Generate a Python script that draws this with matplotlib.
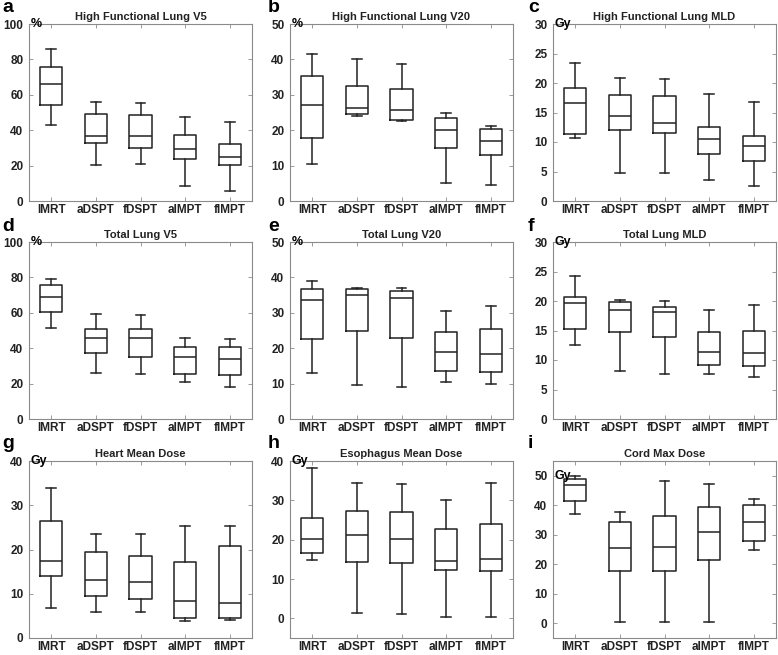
import matplotlib
matplotlib.use('Agg')
import matplotlib.pyplot as plt
import numpy as np

plt.rcParams['font.family'] = ['Liberation Sans', 'DejaVu Sans']

plans = ['IMRT', 'aDSPT', 'fDSPT', 'aIMPT', 'fIMPT']

# per panel: [whislo, q1, med, q3, whishi] for each plan
hfl_v5 = [[43, 54, 66, 75.5, 86], [20.5, 33, 37, 49, 56], [21, 30, 36.5, 48.5, 55.5],
          [8.5, 23.5, 29.5, 37.5, 47.5], [5.5, 20.5, 25, 32, 44.5]]
hfl_v20 = [[10.5, 17.8, 27, 35.2, 41.6], [24, 24.5, 26.3, 32.5, 40], [22.6, 22.9, 25.6, 31.5, 38.8],
           [5.2, 15, 20, 23.4, 24.9], [4.5, 13, 17, 20.2, 21.1]]
hfl_mld = [[10.7, 11.4, 16.6, 19.1, 23.4], [4.8, 12, 14.4, 18, 20.8], [4.8, 11.6, 13.2, 17.8, 20.6],
           [3.6, 7.9, 10.5, 12.5, 18.2], [2.5, 6.8, 9.3, 11.1, 16.7]]
tl_v5 = [[51.5, 60.5, 69, 75.5, 79], [26, 37.5, 46, 51, 59.5], [25.5, 35, 46, 51, 58.5],
         [21, 25.5, 35, 40.5, 46], [18, 25, 34, 40.5, 45]]
tl_v20 = [[13, 22.5, 33.7, 36.7, 39], [9.7, 24.8, 34.9, 36.6, 37.1], [9, 23, 34.2, 36.2, 36.9],
          [10.5, 13.5, 19, 24.6, 30.4], [10, 13.3, 18.4, 25.3, 31.9]]
tl_mld = [[12.5, 15.2, 19.7, 20.6, 24.2], [8.1, 14.8, 18.4, 19.9, 20.1], [7.7, 13.9, 18.2, 19.0, 20.0],
          [7.7, 9.1, 11.4, 14.7, 18.5], [7.1, 9.0, 11.2, 15.0, 19.3]]
heart_mean = [[6.7, 14.1, 17.5, 26.4, 33.9], [5.8, 9.6, 13.0, 19.4, 23.6], [5.8, 8.8, 12.7, 18.5, 23.5],
              [3.9, 4.6, 8.3, 17.1, 25.3], [4.1, 4.5, 8.0, 20.7, 25.2]]
esoph_mean = [[14.8, 16.5, 20.1, 25.6, 38.3], [1.4, 14.2, 21.2, 27.3, 34.3], [1.1, 14.1, 20.2, 27.1, 34.2],
              [0.3, 12.3, 14.5, 22.7, 30.2], [0.3, 12.0, 15.0, 24.0, 34.3]]
cord_max = [[37.2, 41.3, 46.8, 48.9, 49.8], [0.5, 17.8, 25.5, 34.4, 37.8], [0.5, 17.8, 25.7, 36.5, 48.2],
            [0.5, 21.5, 30.9, 39.4, 47.2], [25.0, 28.0, 34.3, 40.1, 42.0]]

panels = [
    ('a', 'High Functional Lung V5', hfl_v5, '%', (0, 100), np.arange(0, 101, 20)),
    ('b', 'High Functional Lung V20', hfl_v20, '%', (0, 50), np.arange(0, 51, 10)),
    ('c', 'High Functional Lung MLD', hfl_mld, 'Gy', (0, 30), np.arange(0, 31, 5)),
    ('d', 'Total Lung V5', tl_v5, '%', (0, 100), np.arange(0, 101, 20)),
    ('e', 'Total Lung V20', tl_v20, '%', (0, 50), np.arange(0, 51, 10)),
    ('f', 'Total Lung MLD', tl_mld, 'Gy', (0, 30), np.arange(0, 31, 5)),
    ('g', 'Heart Mean Dose', heart_mean, 'Gy', (0, 40), np.arange(0, 41, 10)),
    ('h', 'Esophagus Mean Dose', esoph_mean, 'Gy', (-5, 40), np.arange(0, 41, 10)),
    ('i', 'Cord Max Dose', cord_max, 'Gy', (-5, 55), np.arange(0, 51, 10)),
]

W, H = 778, 655
fig = plt.figure(figsize=(W / 100, H / 100), dpi=100)

col_left = [29, 290, 553]
row_top = [24, 242, 461]
ax_w, ax_h = 223, 177
letter_x = [2, 268, 528]
letter_y = [7, 227, 444]

for k, (letter, title, stats, unit, ylim, yticks) in enumerate(panels):
    r, c = divmod(k, 3)
    ax = fig.add_axes([col_left[c] / W, 1 - (row_top[r] + ax_h) / H, ax_w / W, ax_h / H])
    bstats = [dict(whislo=s[0], q1=s[1], med=s[2], q3=s[3], whishi=s[4], fliers=[]) for s in stats]
    lw = 1.1
    ax.bxp(bstats, positions=range(1, 6), widths=0.5, capwidths=0.22, showfliers=False,
           boxprops=dict(color='#222222', linewidth=lw),
           whiskerprops=dict(color='#222222', linewidth=lw),
           capprops=dict(color='#222222', linewidth=lw),
           medianprops=dict(color='#222222', linewidth=lw))
    ax.set_xlim(0.5, 5.5)
    ax.set_ylim(*ylim)
    ax.set_yticks(yticks)
    ax.set_xticks(range(1, 6))
    ax.set_xticklabels(plans)
    for sp in ax.spines.values():
        sp.set_color('#8a8a8a')
        sp.set_linewidth(0.8)
    ax.tick_params(direction='in', length=3, width=0.6, color='#8a8a8a',
                   top=True, right=True, labelsize=8.5, labelcolor='#222222')
    ax.tick_params(axis='x', pad=2)
    ax.tick_params(axis='y', pad=4)
    for lab in ax.get_xticklabels() + ax.get_yticklabels():
        lab.set_fontweight('bold')
    ax.set_title(title, fontsize=8, fontweight='bold', pad=3, color='#222222')
    ax.text(0.53, yticks[-1], unit, fontsize=9, fontweight='bold', va='center', ha='left')
    fig.text(letter_x[c] / W, 1 - letter_y[r] / H, letter, fontsize=14, fontweight='bold',
             va='center', ha='left')

fig.savefig('out.png', dpi=100)
